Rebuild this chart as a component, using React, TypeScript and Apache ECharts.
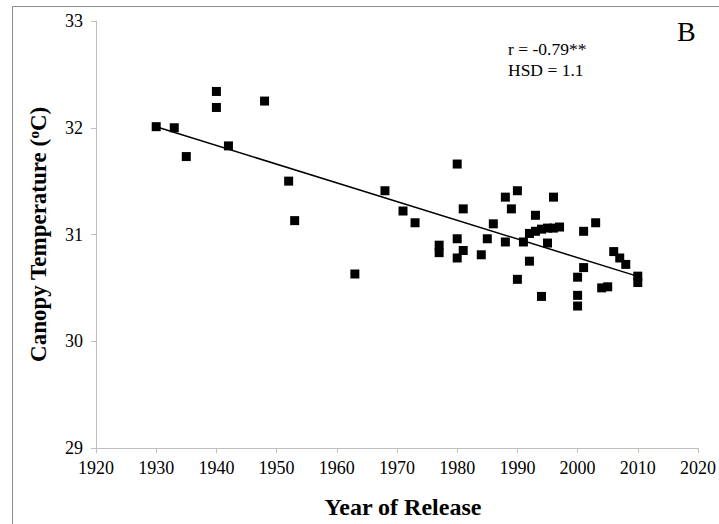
import React, { useEffect, useRef } from "react";
import * as echarts from "echarts";

// Release year of each cultivar and its mean canopy temperature (°C)
const releaseYears = [
  1930, 1933, 1935, 1940, 1940, 1942, 1948, 1952, 1953, 1963,
  1968, 1971, 1973, 1977, 1977, 1980, 1980, 1980, 1981, 1981,
  1984, 1985, 1986, 1988, 1988, 1989, 1990, 1990, 1991, 1992,
  1992, 1993, 1993, 1994, 1994, 1995, 1995, 1996, 1996, 1997,
  2000, 2000, 2000, 2001, 2001, 2003, 2004, 2005, 2006, 2007,
  2008, 2010, 2010,
];
const canopyTemps = [
  32.01, 32.0, 31.73, 32.34, 32.19, 31.83, 32.25, 31.5, 31.13, 30.63,
  31.41, 31.22, 31.11, 30.9, 30.83, 31.66, 30.96, 30.78, 31.24, 30.85,
  30.81, 30.96, 31.1, 31.35, 30.93, 31.24, 31.41, 30.58, 30.93, 31.01,
  30.75, 31.18, 31.03, 31.05, 30.42, 31.06, 30.92, 31.06, 31.35, 31.07,
  30.6, 30.43, 30.33, 31.03, 30.69, 31.11, 30.5, 30.51, 30.84, 30.78,
  30.72, 30.61, 30.55,
];
const statLines = ["r = -0.79**", "HSD = 1.1"];
const panelLetter = "B";

const SERIF = "'Liberation Serif', 'Times New Roman', serif";

// Least-squares trend line over the observed years
function trendLine(xs: number[], ys: number[]): number[][] {
  const n = xs.length;
  const mx = xs.reduce((a, b) => a + b, 0) / n;
  const my = ys.reduce((a, b) => a + b, 0) / n;
  let sxy = 0;
  let sxx = 0;
  for (let i = 0; i < n; i++) {
    sxy += (xs[i] - mx) * (ys[i] - my);
    sxx += (xs[i] - mx) * (xs[i] - mx);
  }
  const slope = sxy / sxx;
  const x0 = Math.min(...xs);
  const x1 = Math.max(...xs);
  return [
    [x0, my + slope * (x0 - mx)],
    [x1, my + slope * (x1 - mx)],
  ];
}

export default function App() {
  const ref = useRef<HTMLDivElement>(null);

  useEffect(() => {
    if (!ref.current) return;
    const chart = echarts.init(ref.current, null, { renderer: "svg" });
    const points = releaseYears.map((y, i) => [y, canopyTemps[i]]);
    const axisGray = "#bfbfbf";

    chart.setOption({
      animation: false,
      backgroundColor: "#ffffff",
      grid: { left: 96, right: 13, top: 21, bottom: 75 },
      xAxis: {
        type: "value",
        min: 1920,
        max: 2020,
        interval: 10,
        name: "Year of Release",
        nameLocation: "middle",
        nameGap: 47,
        nameTextStyle: {
          fontFamily: SERIF,
          fontSize: 24,
          fontWeight: "bold",
          color: "#000",
          padding: [0, 0, 0, 12],
        },
        axisLine: { show: true, lineStyle: { color: axisGray, width: 1 } },
        axisTick: { show: true, length: 5, lineStyle: { color: axisGray } },
        splitLine: { show: false },
        axisLabel: {
          fontFamily: SERIF,
          fontSize: 18,
          color: "#000",
          margin: 11,
          formatter: (v: number) => String(v),
        },
      },
      yAxis: {
        type: "value",
        min: 29,
        max: 33,
        interval: 1,
        name: "{t|Canopy Temperature (}{s|o}{t|C)}",
        nameLocation: "middle",
        nameGap: 46,
        nameTextStyle: {
          rich: {
            t: {
              fontFamily: SERIF,
              fontSize: 23,
              fontWeight: "bold",
              color: "#000",
            },
            s: {
              fontFamily: SERIF,
              fontSize: 15,
              fontWeight: "bold",
              color: "#000",
              padding: [0, 0, 9, 0],
            },
          },
        },
        axisLine: { show: true, lineStyle: { color: axisGray, width: 1 } },
        axisTick: { show: true, length: 5, lineStyle: { color: axisGray } },
        splitLine: { show: false },
        axisLabel: {
          fontFamily: SERIF,
          fontSize: 18,
          color: "#000",
          margin: 13,
        },
      },
      series: [
        {
          type: "scatter",
          data: points,
          symbol: "rect",
          symbolSize: 9,
          itemStyle: { color: "#000", opacity: 1 },
          z: 3,
        },
        {
          type: "line",
          data: trendLine(releaseYears, canopyTemps),
          symbol: "none",
          lineStyle: { color: "#000", width: 1.5 },
          z: 2,
        },
      ],
      graphic: [
        {
          type: "rect",
          shape: { x: 12.5, y: 6.5, width: 730, height: 540 },
          style: { fill: "none", stroke: "#8c8c8c", lineWidth: 1 },
          silent: true,
        },
        {
          type: "text",
          left: 508,
          top: 38,
          style: {
            text: statLines.join("\n"),
            font: `17.5px ${SERIF}`,
            lineHeight: 21,
            fill: "#000",
          },
        },
        {
          type: "text",
          left: 677,
          top: 17,
          style: {
            text: panelLetter,
            font: `28px ${SERIF}`,
            fill: "#000",
          },
        },
      ],
    });

    return () => chart.dispose();
  }, []);

  return (
    <div
      ref={ref}
      style={{ position: "fixed", left: 0, top: 0, width: 719, height: 524 }}
    />
  );
}
